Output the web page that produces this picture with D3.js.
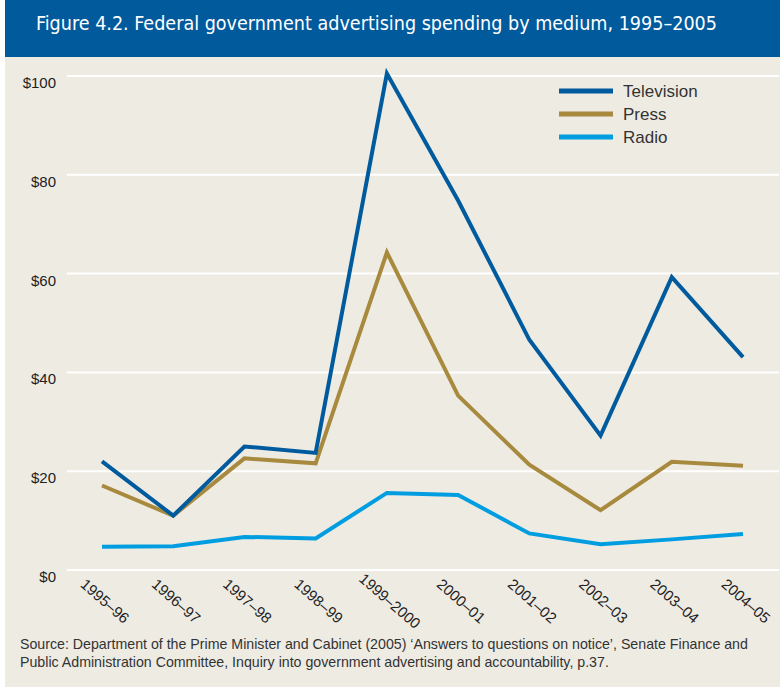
<!DOCTYPE html>
<html>
<head>
<meta charset="utf-8">
<script src="https://cdn.jsdelivr.net/npm/d3@7"></script>
<style>
  body { margin: 0; background: #fff; }
  text { font-family: "Liberation Sans", Arial, sans-serif; }
</style>
</head>
<body>
<div id="chart"></div>
<script>
var years = ["1995–96", "1996–97", "1997–98", "1998–99", "1999–2000",
  "2000–01", "2001–02", "2002–03", "2003–04", "2004–05"];
var television = [22, 11, 25, 23.7, 100.5, 74.8, 46.6, 27.2, 59.3, 43.1];
var press = [17.1, 11, 22.6, 21.6, 64.3, 35.3, 21.3, 12.1, 21.9, 21.1];
var radio = [4.7, 4.8, 6.7, 6.4, 15.6, 15.2, 7.4, 5.2, 6.2, 7.3];
var yTicks = [0, 20, 40, 60, 80, 100];

var seriesList = [
  { name: "Television", values: television, color: "#005b9e" },
  { name: "Press", values: press, color: "#a88a3f" },
  { name: "Radio", values: radio, color: "#009ee0" }
];

var svgWidth = 780;
var svgHeight = 688;

var svg = d3.select("#chart")
  .append("svg")
  .attr("width", svgWidth)
  .attr("height", svgHeight);

// panel and title bar
svg.append("rect")
  .attr("x", 5).attr("y", 0)
  .attr("width", svgWidth - 5).attr("height", 687)
  .attr("fill", "#eeebe3");

svg.append("rect")
  .attr("x", 5).attr("y", 0)
  .attr("width", svgWidth - 5).attr("height", 57)
  .attr("fill", "#005a9c");

svg.append("text")
  .attr("x", 36)
  .attr("y", 30)
  .attr("fill", "#fff")
  .style("font-family", "'DejaVu Sans Condensed', 'Liberation Sans Narrow', sans-serif")
  .style("font-size", "20px")
  .attr("textLength", 681)
  .attr("lengthAdjust", "spacingAndGlyphs")
  .text("Figure 4.2. Federal government advertising spending by medium, 1995–2005");

var xScale = d3.scalePoint()
  .domain(years)
  .range([102, 743]);

var yScale = d3.scaleLinear()
  .domain([0, 100])
  .range([570, 76]);

// gridlines
svg.append("g")
  .selectAll("line")
  .data(yTicks)
  .enter()
  .append("line")
  .attr("x1", 67)
  .attr("x2", 779)
  .attr("y1", d => yScale(d))
  .attr("y2", d => yScale(d))
  .attr("stroke", "#fff")
  .attr("stroke-width", 2);

// y labels
svg.append("g")
  .selectAll("text")
  .data(yTicks)
  .enter()
  .append("text")
  .attr("x", 56)
  .attr("y", d => yScale(d) + 12)
  .attr("text-anchor", "end")
  .attr("fill", "#222")
  .style("font-size", "15px")
  .text(d => "$" + d);

// x labels
svg.append("g")
  .selectAll("text")
  .data(years)
  .enter()
  .append("text")
  .attr("transform", d => `translate(${xScale(d) + 3}, 601) rotate(41)`)
  .attr("text-anchor", "middle")
  .attr("dy", "0.35em")
  .attr("fill", "#222")
  .style("font-size", "15px")
  .text(d => d);

var line = d3.line()
  .x((d, i) => xScale(years[i]))
  .y(d => yScale(d));

// draw radio first so tv sits on top
seriesList.slice().reverse().forEach(function(s) {
  svg.append("path")
    .datum(s.values)
    .attr("d", line)
    .attr("fill", "none")
    .attr("stroke", s.color)
    .attr("stroke-width", 4)
    .attr("stroke-linejoin", "miter");
});

// legend
var legend = svg.append("g")
  .selectAll("g")
  .data(seriesList)
  .enter()
  .append("g")
  .attr("transform", (d, i) => `translate(559, ${91 + i * 23})`);

legend.append("line")
  .attr("x1", 0).attr("x2", 54)
  .attr("y1", 0).attr("y2", 0)
  .attr("stroke", d => d.color)
  .attr("stroke-width", 5);

legend.append("text")
  .attr("x", 64)
  .attr("y", 6)
  .attr("fill", "#333")
  .style("font-size", "17px")
  .text(d => d.name);

// source note
var source = svg.append("text")
  .attr("x", 20)
  .attr("fill", "#333")
  .style("font-size", "14.2px");

source.append("tspan")
  .attr("x", 20).attr("y", 649)
  .text("Source: Department of the Prime Minister and Cabinet (2005) ‘Answers to questions on notice’, Senate Finance and");
source.append("tspan")
  .attr("x", 20).attr("y", 667)
  .text("Public Administration Committee, Inquiry into government advertising and accountability, p.37.");
</script>
</body>
</html>
